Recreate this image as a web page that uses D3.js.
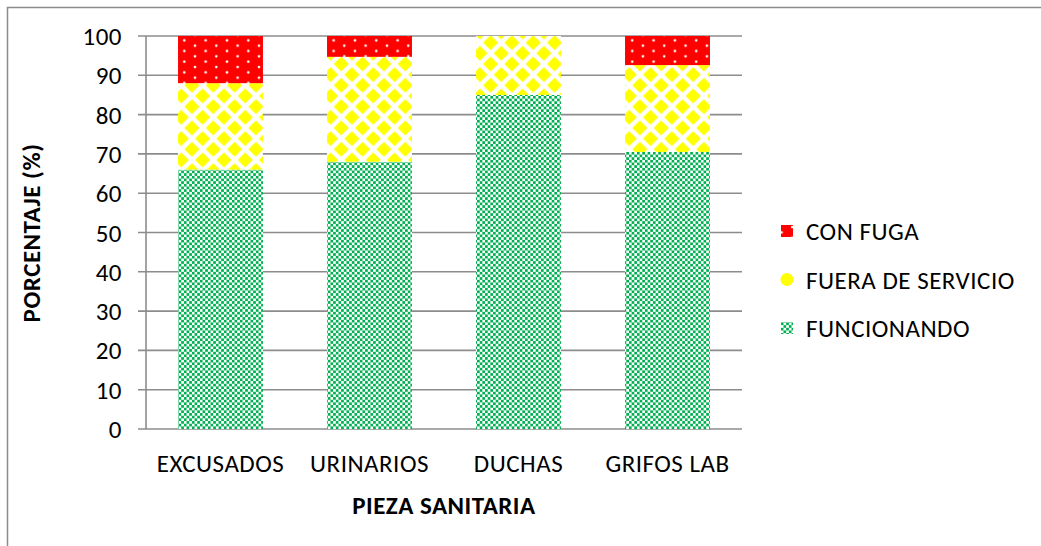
<!DOCTYPE html>
<html><head><meta charset="utf-8">
<script src="https://cdn.jsdelivr.net/npm/d3@7"></script>
<style>
body{margin:0;background:#fff;}
text{font-family:Carlito,Calibri,Lato,"Open Sans",sans-serif;fill:#000;font-size:25px;letter-spacing:0.5px;}
</style></head>
<body><svg id="c" width="1041" height="546"></svg>
<script>
const categories = ["EXCUSADOS","URINARIOS","DUCHAS","GRIFOS LAB"];
const funcionando = [66, 68, 85, 70.5];
const fueraDeServicio = [22, 26.7, 15, 22.1];
const conFuga = [12, 5.3, 0, 7.4];
const yTicks = [0,10,20,30,40,50,60,70,80,90,100];
const seriesNames = ["FUNCIONANDO","FUERA DE SERVICIO","CON FUGA"];

(function(){
const svg = d3.select("#c");
const defs = svg.append("defs");
// green checker
const pg = defs.append("pattern").attr("id","pGreen").attr("patternUnits","userSpaceOnUse").attr("width",5.33).attr("height",5.33);
pg.append("rect").attr("width",5.33).attr("height",5.33).attr("fill","#ffffff");
pg.append("rect").attr("x",0).attr("y",0).attr("width",2.67).attr("height",2.67).attr("fill","#00b050");
pg.append("rect").attr("x",2.67).attr("y",2.67).attr("width",2.67).attr("height",2.67).attr("fill","#00b050");
// yellow diamonds
const s = 21.33;
const py = defs.append("pattern").attr("id","pYellow").attr("patternUnits","userSpaceOnUse").attr("width",s).attr("height",s);
py.append("rect").attr("width",s).attr("height",s).attr("fill","#ffffff");
const dd = 7.6;
[[0,0],[s,0],[0,s],[s,s],[s/2,s/2]].forEach(([cx,cy])=>{
  py.append("path").attr("d",`M${cx},${cy-dd}L${cx+dd},${cy}L${cx},${cy+dd}L${cx-dd},${cy}Z`).attr("fill","#ffff00");
});
// red with white dots
const pr = defs.append("pattern").attr("id","pRed").attr("patternUnits","userSpaceOnUse").attr("width",21.33).attr("height",10.67);
pr.append("rect").attr("width",21.33).attr("height",10.67).attr("fill","#ff0000");
pr.append("circle").attr("cx",3).attr("cy",3).attr("r",1.3).attr("fill","#ffffff");
pr.append("circle").attr("cx",13.67).attr("cy",8.33).attr("r",1.3).attr("fill","#ffffff");

// chart border
svg.append("rect").attr("x",7.5).attr("y",7.5).attr("width",1040).attr("height",545)
  .attr("fill","none").attr("stroke","#8c8c8c").attr("stroke-width",1.5);

const pL = 146, pR = 742, pT = 36, pB = 429;
const x = d3.scaleBand().domain(categories).range([pL,pR]).paddingInner(0.43).paddingOuter(0.215);
const y = d3.scaleLinear().domain([0,100]).range([pB,pT]);

// gridlines
svg.append("g").selectAll("line").data(yTicks).join("line")
  .attr("x1",pL-8).attr("x2",pR).attr("y1",d=>y(d)).attr("y2",d=>y(d))
  .attr("stroke","#8c8c8c").attr("stroke-width",1.6);
// y axis line
svg.append("line").attr("x1",pL).attr("x2",pL).attr("y1",pT).attr("y2",pB)
  .attr("stroke","#8c8c8c").attr("stroke-width",1.6);

// tick labels
svg.append("g").selectAll("text").data(yTicks).join("text")
  .attr("x",122).attr("y",d=>y(d)).attr("dy","0.36em").attr("text-anchor","end")
  .text(d=>d);

// stacked bars
const data = categories.map((c,i)=>({cat:c, FUNCIONANDO:funcionando[i], "FUERA DE SERVICIO":fueraDeServicio[i], "CON FUGA":conFuga[i]}));
const stack = d3.stack().keys(seriesNames)(data);
const fills = {"FUNCIONANDO":"url(#pGreen)","FUERA DE SERVICIO":"url(#pYellow)","CON FUGA":"url(#pRed)"};
svg.append("g").selectAll("g").data(stack).join("g")
  .attr("fill",d=>fills[d.key])
  .selectAll("rect").data(d=>d).join("rect")
  .attr("x",d=>x(d.data.cat)).attr("width",x.bandwidth())
  .attr("y",d=>y(d[1])).attr("height",d=>Math.max(0,y(d[0])-y(d[1])));

// x labels
svg.append("g").selectAll("text").data(categories).join("text")
  .attr("x",d=>x(d)+x.bandwidth()/2).attr("y",472).attr("text-anchor","middle")
  .text(d=>d);

// axis titles
svg.append("text").attr("x",444).attr("y",514).attr("text-anchor","middle")
  .attr("font-weight","bold").text("PIEZA SANITARIA");
svg.append("text").attr("transform","translate(40,233) rotate(-90)").attr("text-anchor","middle")
  .attr("font-weight","bold").text("PORCENTAJE (%)");

// legend
const legendItems = ["CON FUGA","FUERA DE SERVICIO","FUNCIONANDO"];
const lg = svg.append("g");
legendItems.forEach((k,i)=>{
  const cy = 231 + i*48.5;
  if(k==="FUERA DE SERVICIO"){
    lg.append("circle").attr("cx",787).attr("cy",cy).attr("r",6.5).attr("fill","#ffff00");
  } else {
    lg.append("rect").attr("x",781).attr("y",cy-6).attr("width",12).attr("height",12).attr("fill",fills[k]);
  }
  lg.append("text").attr("x",806).attr("y",cy).attr("dy","0.36em").text(k);
});
})();
</script></body></html>
